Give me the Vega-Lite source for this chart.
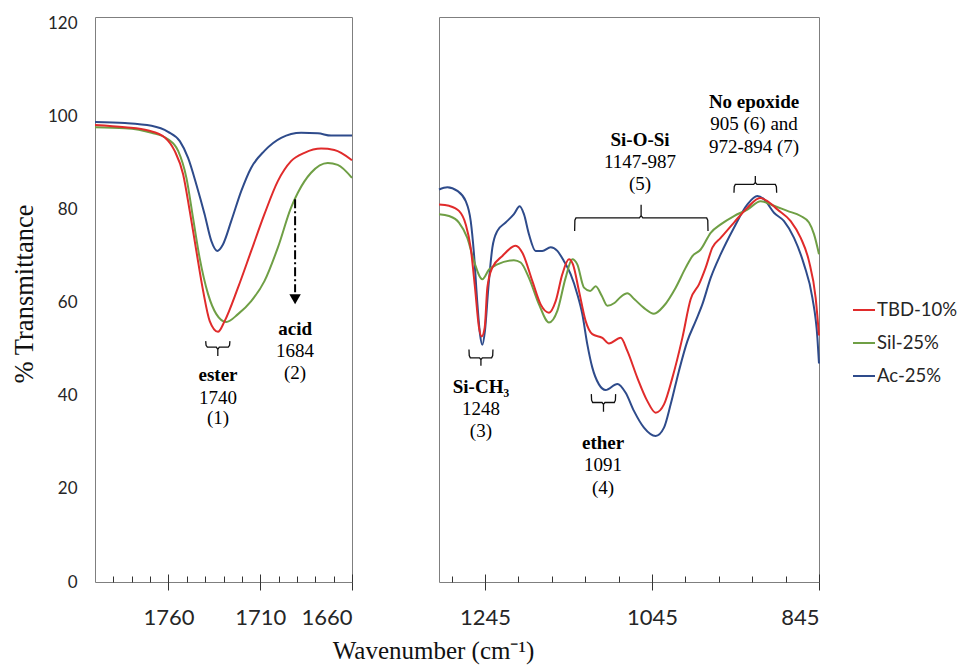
{
  "$schema": "https://vega.github.io/schema/vega-lite/v6.json",
  "padding": {"left": 11, "top": 14, "right": 5, "bottom": 5},
  "background": "white",
  "bounds": "flush",
  "spacing": 87,
  "datasets": {
    "L": [
      {"s": "Ac-25%", "x": 1800, "y": 98.9}, {"s": "Ac-25%", "x": 1783.7, "y": 98.7}, {"s": "Ac-25%", "x": 1769.2, "y": 98.1}, {"s": "Ac-25%", "x": 1760.2, "y": 96.8}, {"s": "Ac-25%", "x": 1753.8, "y": 94.8}, {"s": "Ac-25%", "x": 1749.3, "y": 91.2}, {"s": "Ac-25%", "x": 1744.8, "y": 85.5}, {"s": "Ac-25%", "x": 1740.3, "y": 79.1}, {"s": "Ac-25%", "x": 1736.6, "y": 73.3}, {"s": "Ac-25%", "x": 1733.4, "y": 71.2}, {"s": "Ac-25%", "x": 1730.3, "y": 72.6}, {"s": "Ac-25%", "x": 1725.8, "y": 77.6}, {"s": "Ac-25%", "x": 1720.3, "y": 84.1}, {"s": "Ac-25%", "x": 1714.9, "y": 89.1}, {"s": "Ac-25%", "x": 1707.7, "y": 92.7}, {"s": "Ac-25%", "x": 1698.6, "y": 95.5}, {"s": "Ac-25%", "x": 1687.7, "y": 96.6}, {"s": "Ac-25%", "x": 1678.6, "y": 96.5}, {"s": "Ac-25%", "x": 1671.4, "y": 96.0}, {"s": "Ac-25%", "x": 1660, "y": 96.0},
      {"s": "Sil-25%", "x": 1800, "y": 97.8}, {"s": "Sil-25%", "x": 1783.7, "y": 97.6}, {"s": "Sil-25%", "x": 1769.2, "y": 96.6}, {"s": "Sil-25%", "x": 1760.2, "y": 95.2}, {"s": "Sil-25%", "x": 1754.7, "y": 92.7}, {"s": "Sil-25%", "x": 1750.2, "y": 86.9}, {"s": "Sil-25%", "x": 1746.6, "y": 78.3}, {"s": "Sil-25%", "x": 1743, "y": 69.7}, {"s": "Sil-25%", "x": 1738.4, "y": 61.9}, {"s": "Sil-25%", "x": 1733.9, "y": 57.6}, {"s": "Sil-25%", "x": 1728.5, "y": 55.9}, {"s": "Sil-25%", "x": 1722.1, "y": 57.6}, {"s": "Sil-25%", "x": 1714.9, "y": 60.4}, {"s": "Sil-25%", "x": 1707.7, "y": 64.7}, {"s": "Sil-25%", "x": 1700.4, "y": 71.9}, {"s": "Sil-25%", "x": 1693.2, "y": 80.5}, {"s": "Sil-25%", "x": 1689.5, "y": 83.7}, {"s": "Sil-25%", "x": 1682.3, "y": 88.0}, {"s": "Sil-25%", "x": 1673.2, "y": 90.1}, {"s": "Sil-25%", "x": 1667.8, "y": 89.7}, {"s": "Sil-25%", "x": 1660, "y": 86.9},
      {"s": "TBD-10%", "x": 1800, "y": 98.3}, {"s": "TBD-10%", "x": 1783.7, "y": 97.8}, {"s": "TBD-10%", "x": 1771, "y": 97.1}, {"s": "TBD-10%", "x": 1762, "y": 95.6}, {"s": "TBD-10%", "x": 1756.6, "y": 92.7}, {"s": "TBD-10%", "x": 1752, "y": 87.7}, {"s": "TBD-10%", "x": 1748.4, "y": 79.8}, {"s": "TBD-10%", "x": 1744.8, "y": 71.2}, {"s": "TBD-10%", "x": 1741.1, "y": 62.6}, {"s": "TBD-10%", "x": 1737.5, "y": 56.1}, {"s": "TBD-10%", "x": 1733, "y": 53.8}, {"s": "TBD-10%", "x": 1729.4, "y": 56.1}, {"s": "TBD-10%", "x": 1722.1, "y": 63.3}, {"s": "TBD-10%", "x": 1714.9, "y": 71.2}, {"s": "TBD-10%", "x": 1707.7, "y": 79.1}, {"s": "TBD-10%", "x": 1700.4, "y": 86.2}, {"s": "TBD-10%", "x": 1693.2, "y": 90.5}, {"s": "TBD-10%", "x": 1685.9, "y": 92.3}, {"s": "TBD-10%", "x": 1676.8, "y": 93.2}, {"s": "TBD-10%", "x": 1669.6, "y": 92.9}, {"s": "TBD-10%", "x": 1660, "y": 90.7}
    ],
    "R": [
      {"s": "Ac-25%", "x": 1300, "y": 84.4}, {"s": "Ac-25%", "x": 1290, "y": 84.9}, {"s": "Ac-25%", "x": 1278, "y": 84.1}, {"s": "Ac-25%", "x": 1268, "y": 81.9}, {"s": "Ac-25%", "x": 1262, "y": 77.6}, {"s": "Ac-25%", "x": 1258.1, "y": 70.5}, {"s": "Ac-25%", "x": 1254, "y": 59.7}, {"s": "Ac-25%", "x": 1250.9, "y": 53.3}, {"s": "Ac-25%", "x": 1248.1, "y": 51.0}, {"s": "Ac-25%", "x": 1245, "y": 54.0}, {"s": "Ac-25%", "x": 1240.9, "y": 63.3}, {"s": "Ac-25%", "x": 1236.1, "y": 71.9}, {"s": "Ac-25%", "x": 1230.1, "y": 75.5}, {"s": "Ac-25%", "x": 1220.2, "y": 77.3}, {"s": "Ac-25%", "x": 1210.3, "y": 79.1}, {"s": "Ac-25%", "x": 1203.4, "y": 80.8}, {"s": "Ac-25%", "x": 1198.3, "y": 79.1}, {"s": "Ac-25%", "x": 1192.3, "y": 74.8}, {"s": "Ac-25%", "x": 1184.3, "y": 71.2}, {"s": "Ac-25%", "x": 1176.3, "y": 71.2}, {"s": "Ac-25%", "x": 1166.3, "y": 72.0}, {"s": "Ac-25%", "x": 1158.3, "y": 71.2}, {"s": "Ac-25%", "x": 1150.4, "y": 69.0}, {"s": "Ac-25%", "x": 1142.4, "y": 66.2}, {"s": "Ac-25%", "x": 1134.4, "y": 61.9}, {"s": "Ac-25%", "x": 1128.4, "y": 57.6}, {"s": "Ac-25%", "x": 1122.4, "y": 51.1}, {"s": "Ac-25%", "x": 1116.4, "y": 46.1}, {"s": "Ac-25%", "x": 1108.5, "y": 42.5}, {"s": "Ac-25%", "x": 1100.5, "y": 41.3}, {"s": "Ac-25%", "x": 1086.4, "y": 42.6}, {"s": "Ac-25%", "x": 1076.5, "y": 40.7}, {"s": "Ac-25%", "x": 1066.6, "y": 36.8}, {"s": "Ac-25%", "x": 1054.6, "y": 33.2}, {"s": "Ac-25%", "x": 1040.6, "y": 31.4}, {"s": "Ac-25%", "x": 1030.6, "y": 33.2}, {"s": "Ac-25%", "x": 1022.6, "y": 38.2}, {"s": "Ac-25%", "x": 1012.7, "y": 45.4}, {"s": "Ac-25%", "x": 1002.6, "y": 51.8}, {"s": "Ac-25%", "x": 992.7, "y": 56.1}, {"s": "Ac-25%", "x": 984.7, "y": 59.7}, {"s": "Ac-25%", "x": 974.7, "y": 65.4}, {"s": "Ac-25%", "x": 962.7, "y": 70.5}, {"s": "Ac-25%", "x": 946.8, "y": 76.2}, {"s": "Ac-25%", "x": 930.7, "y": 81.2}, {"s": "Ac-25%", "x": 918.8, "y": 83.0}, {"s": "Ac-25%", "x": 910.9, "y": 82.3}, {"s": "Ac-25%", "x": 898.9, "y": 79.4}, {"s": "Ac-25%", "x": 886.9, "y": 77.6}, {"s": "Ac-25%", "x": 874.9, "y": 74.0}, {"s": "Ac-25%", "x": 863, "y": 68.3}, {"s": "Ac-25%", "x": 852.9, "y": 61.1}, {"s": "Ac-25%", "x": 846.9, "y": 52.5}, {"s": "Ac-25%", "x": 845, "y": 47.0},
      {"s": "Sil-25%", "x": 1300, "y": 79.1}, {"s": "Sil-25%", "x": 1288, "y": 78.7}, {"s": "Sil-25%", "x": 1276.1, "y": 77.3}, {"s": "Sil-25%", "x": 1266.1, "y": 74.0}, {"s": "Sil-25%", "x": 1258.1, "y": 69.0}, {"s": "Sil-25%", "x": 1248.1, "y": 65.1}, {"s": "Sil-25%", "x": 1240.1, "y": 67.2}, {"s": "Sil-25%", "x": 1230.1, "y": 68.3}, {"s": "Sil-25%", "x": 1210.3, "y": 69.2}, {"s": "Sil-25%", "x": 1202.2, "y": 68.7}, {"s": "Sil-25%", "x": 1192.3, "y": 65.4}, {"s": "Sil-25%", "x": 1180.3, "y": 59.7}, {"s": "Sil-25%", "x": 1168.3, "y": 55.8}, {"s": "Sil-25%", "x": 1158.3, "y": 58.3}, {"s": "Sil-25%", "x": 1148.4, "y": 65.4}, {"s": "Sil-25%", "x": 1140.4, "y": 69.4}, {"s": "Sil-25%", "x": 1134.4, "y": 68.3}, {"s": "Sil-25%", "x": 1126.4, "y": 63.3}, {"s": "Sil-25%", "x": 1119, "y": 62.6}, {"s": "Sil-25%", "x": 1112.4, "y": 63.6}, {"s": "Sil-25%", "x": 1105, "y": 61.5}, {"s": "Sil-25%", "x": 1098.4, "y": 59.4}, {"s": "Sil-25%", "x": 1090, "y": 60.0}, {"s": "Sil-25%", "x": 1082.5, "y": 61.3}, {"s": "Sil-25%", "x": 1074.5, "y": 62.1}, {"s": "Sil-25%", "x": 1066, "y": 60.8}, {"s": "Sil-25%", "x": 1055, "y": 59.0}, {"s": "Sil-25%", "x": 1042.6, "y": 57.7}, {"s": "Sil-25%", "x": 1030.6, "y": 59.4}, {"s": "Sil-25%", "x": 1016.6, "y": 63.3}, {"s": "Sil-25%", "x": 1004.6, "y": 67.6}, {"s": "Sil-25%", "x": 996.6, "y": 70.1}, {"s": "Sil-25%", "x": 986.7, "y": 71.5}, {"s": "Sil-25%", "x": 974.7, "y": 75.1}, {"s": "Sil-25%", "x": 962.7, "y": 76.9}, {"s": "Sil-25%", "x": 946.8, "y": 78.7}, {"s": "Sil-25%", "x": 930.7, "y": 80.1}, {"s": "Sil-25%", "x": 914.8, "y": 81.9}, {"s": "Sil-25%", "x": 898.9, "y": 80.9}, {"s": "Sil-25%", "x": 882.9, "y": 79.8}, {"s": "Sil-25%", "x": 866.9, "y": 78.7}, {"s": "Sil-25%", "x": 857, "y": 77.3}, {"s": "Sil-25%", "x": 851, "y": 74.8}, {"s": "Sil-25%", "x": 845, "y": 70.5},
      {"s": "TBD-10%", "x": 1300, "y": 81.2}, {"s": "TBD-10%", "x": 1288, "y": 80.9}, {"s": "TBD-10%", "x": 1276.1, "y": 79.8}, {"s": "TBD-10%", "x": 1268, "y": 76.9}, {"s": "TBD-10%", "x": 1262.1, "y": 71.9}, {"s": "TBD-10%", "x": 1256.9, "y": 63.3}, {"s": "TBD-10%", "x": 1252.1, "y": 54.7}, {"s": "TBD-10%", "x": 1248.9, "y": 52.8}, {"s": "TBD-10%", "x": 1245.3, "y": 54.7}, {"s": "TBD-10%", "x": 1242.1, "y": 63.3}, {"s": "TBD-10%", "x": 1236.1, "y": 67.6}, {"s": "TBD-10%", "x": 1224.1, "y": 70.1}, {"s": "TBD-10%", "x": 1208.2, "y": 72.3}, {"s": "TBD-10%", "x": 1200.2, "y": 70.8}, {"s": "TBD-10%", "x": 1188.2, "y": 64.7}, {"s": "TBD-10%", "x": 1178.3, "y": 59.7}, {"s": "TBD-10%", "x": 1168.3, "y": 57.9}, {"s": "TBD-10%", "x": 1160.3, "y": 60.4}, {"s": "TBD-10%", "x": 1152.3, "y": 66.2}, {"s": "TBD-10%", "x": 1144.4, "y": 69.4}, {"s": "TBD-10%", "x": 1139.6, "y": 68.3}, {"s": "TBD-10%", "x": 1132.4, "y": 62.6}, {"s": "TBD-10%", "x": 1124.4, "y": 56.1}, {"s": "TBD-10%", "x": 1116.4, "y": 53.3}, {"s": "TBD-10%", "x": 1104.4, "y": 52.5}, {"s": "TBD-10%", "x": 1096.5, "y": 51.3}, {"s": "TBD-10%", "x": 1082.5, "y": 52.5}, {"s": "TBD-10%", "x": 1074.5, "y": 49.7}, {"s": "TBD-10%", "x": 1062.5, "y": 43.9}, {"s": "TBD-10%", "x": 1050.5, "y": 38.9}, {"s": "TBD-10%", "x": 1040.6, "y": 36.4}, {"s": "TBD-10%", "x": 1030.6, "y": 38.2}, {"s": "TBD-10%", "x": 1020.6, "y": 43.9}, {"s": "TBD-10%", "x": 1008.6, "y": 52.5}, {"s": "TBD-10%", "x": 998.7, "y": 60.8}, {"s": "TBD-10%", "x": 988.7, "y": 64.0}, {"s": "TBD-10%", "x": 980.7, "y": 67.6}, {"s": "TBD-10%", "x": 972.7, "y": 71.9}, {"s": "TBD-10%", "x": 962.7, "y": 74.0}, {"s": "TBD-10%", "x": 946.8, "y": 77.3}, {"s": "TBD-10%", "x": 930.7, "y": 80.5}, {"s": "TBD-10%", "x": 915.7, "y": 82.6}, {"s": "TBD-10%", "x": 906.8, "y": 81.9}, {"s": "TBD-10%", "x": 894.8, "y": 80.1}, {"s": "TBD-10%", "x": 878.9, "y": 77.6}, {"s": "TBD-10%", "x": 866.9, "y": 74.0}, {"s": "TBD-10%", "x": 857, "y": 69.0}, {"s": "TBD-10%", "x": 849, "y": 61.1}, {"s": "TBD-10%", "x": 845, "y": 53.0}
    ],
    "BL": [
      {"id": "ester", "o": 1, "x": 1739.7, "y": 51.8}, {"id": "ester", "o": 2, "x": 1739.5, "y": 50.9}, {"id": "ester", "o": 3, "x": 1738.8, "y": 50.5}, {"id": "ester", "o": 4, "x": 1733.9, "y": 50.5}, {"id": "ester", "o": 5, "x": 1733.1, "y": 50.0}, {"id": "ester", "o": 6, "x": 1733.1, "y": 48.6}, {"id": "ester", "o": 7, "x": 1733.1, "y": 50.0}, {"id": "ester", "o": 8, "x": 1732.3, "y": 50.5}, {"id": "ester", "o": 9, "x": 1727.4, "y": 50.5}, {"id": "ester", "o": 10, "x": 1726.7, "y": 50.9}, {"id": "ester", "o": 11, "x": 1726.5, "y": 51.8}
    ],
    "BR": [
      {"id": "sich", "o": 1, "x": 1264.1, "y": 50.0}, {"id": "sich", "o": 2, "x": 1263.8, "y": 48.7}, {"id": "sich", "o": 3, "x": 1262.5, "y": 48.2}, {"id": "sich", "o": 4, "x": 1251.5, "y": 48.2}, {"id": "sich", "o": 5, "x": 1249.8, "y": 47.8}, {"id": "sich", "o": 6, "x": 1249.8, "y": 46.5}, {"id": "sich", "o": 7, "x": 1249.8, "y": 47.8}, {"id": "sich", "o": 8, "x": 1248.1, "y": 48.2}, {"id": "sich", "o": 9, "x": 1237.0, "y": 48.2}, {"id": "sich", "o": 10, "x": 1235.7, "y": 48.7}, {"id": "sich", "o": 11, "x": 1235.4, "y": 50.0},
      {"id": "ether", "o": 1, "x": 1117.6, "y": 40.4}, {"id": "ether", "o": 2, "x": 1117.3, "y": 39.1}, {"id": "ether", "o": 3, "x": 1116.0, "y": 38.6}, {"id": "ether", "o": 4, "x": 1104.8, "y": 38.6}, {"id": "ether", "o": 5, "x": 1103.05, "y": 38.2}, {"id": "ether", "o": 6, "x": 1103.05, "y": 36.6}, {"id": "ether", "o": 7, "x": 1103.05, "y": 38.2}, {"id": "ether", "o": 8, "x": 1101.3, "y": 38.6}, {"id": "ether", "o": 9, "x": 1090.1, "y": 38.6}, {"id": "ether", "o": 10, "x": 1088.8, "y": 39.1}, {"id": "ether", "o": 11, "x": 1088.5, "y": 40.4},
      {"id": "siosi", "o": 1, "x": 1137.6, "y": 75.5}, {"id": "siosi", "o": 2, "x": 1137.3, "y": 77.8}, {"id": "siosi", "o": 3, "x": 1136.0, "y": 78.3}, {"id": "siosi", "o": 4, "x": 1060, "y": 78.3}, {"id": "siosi", "o": 5, "x": 1058, "y": 78.8}, {"id": "siosi", "o": 6, "x": 1058, "y": 81.1}, {"id": "siosi", "o": 7, "x": 1058, "y": 78.8}, {"id": "siosi", "o": 8, "x": 1056, "y": 78.3}, {"id": "siosi", "o": 9, "x": 979.5, "y": 78.3}, {"id": "siosi", "o": 10, "x": 978.2, "y": 77.8}, {"id": "siosi", "o": 11, "x": 977.9, "y": 75.5},
      {"id": "noep", "o": 1, "x": 946.8, "y": 83.7}, {"id": "noep", "o": 2, "x": 946.5, "y": 85.0}, {"id": "noep", "o": 3, "x": 945.2, "y": 85.5}, {"id": "noep", "o": 4, "x": 923.2, "y": 85.5}, {"id": "noep", "o": 5, "x": 921.25, "y": 85.9}, {"id": "noep", "o": 6, "x": 921.25, "y": 87.3}, {"id": "noep", "o": 7, "x": 921.25, "y": 85.9}, {"id": "noep", "o": 8, "x": 919.3, "y": 85.5}, {"id": "noep", "o": 9, "x": 897.3, "y": 85.5}, {"id": "noep", "o": 10, "x": 896.0, "y": 85.0}, {"id": "noep", "o": 11, "x": 895.7, "y": 83.7}
    ],
    "A": [{"o": 1, "x": 1691, "y": 82.3}, {"o": 2, "x": 1691, "y": 62.3}],
    "H": [{"x": 1691, "y": 60.8}],
    "TL": [
      {"t": "ester", "b": 1, "x": 1733.0, "y": 43.2},
      {"t": "1740", "b": 0, "x": 1733.0, "y": 38.3},
      {"t": "(1)", "b": 0, "x": 1733.0, "y": 34.0},
      {"t": "acid", "b": 1, "x": 1691, "y": 53.1},
      {"t": "1684", "b": 0, "x": 1691, "y": 48.4},
      {"t": "(2)", "b": 0, "x": 1691, "y": 43.7}
    ],
    "TR": [
      {"t": "Si-CH₃", "b": 1, "x": 1249.8, "y": 40.7},
      {"t": "1248", "b": 0, "x": 1249.8, "y": 35.9},
      {"t": "(3)", "b": 0, "x": 1249.8, "y": 31.2},
      {"t": "ether", "b": 1, "x": 1103.5, "y": 28.7},
      {"t": "1091", "b": 0, "x": 1103.5, "y": 23.9},
      {"t": "(4)", "b": 0, "x": 1103.5, "y": 19.0},
      {"t": "Si-O-Si", "b": 1, "x": 1059.3, "y": 93.8},
      {"t": "1147-987", "b": 0, "x": 1059.3, "y": 89.1},
      {"t": "(5)", "b": 0, "x": 1059.3, "y": 84.4},
      {"t": "No epoxide", "b": 1, "x": 922.8, "y": 102.0},
      {"t": "905 (6) and", "b": 0, "x": 922.8, "y": 97.1},
      {"t": "972-894 (7)", "b": 0, "x": 922.8, "y": 92.3}
    ]
  },
  "resolve": {
    "scale": {"x": "independent", "y": "independent", "color": "shared"},
    "axis": {"x": "independent", "y": "independent"},
    "legend": {"color": "shared"}
  },
  "hconcat": [
    {
      "width": 257,
      "height": 565,
      "encoding": {
        "y": {
          "field": "y", "type": "quantitative",
          "scale": {"domain": [0, 121.5], "nice": false, "zero": false},
          "axis": {
            "values": [0, 20, 40, 60, 80, 100, 120],
            "ticks": false, "tickSize": 0, "labelPadding": 18,
            "labelFont": "Lato", "labelFontSize": 17, "labelColor": "#262626",
            "domain": false, "grid": false,
            "title": "% Transmittance",
            "titleFont": "Liberation Serif", "titleFontSize": 26.5, "titleFontWeight": "normal", "titleColor": "#111111",
            "titleAngle": -90, "titleAlign": "center", "titleBaseline": "alphabetic",
            "titleX": -62.5, "titleY": 276.5
          }
        }
      },
      "resolve": {"scale": {"x": "independent"}, "axis": {"x": "independent"}},
      "layer": [
        {
          "data": {"name": "L"},
          "mark": {"type": "line", "interpolate": "monotone", "strokeWidth": 2},
          "encoding": {
            "x": {
              "field": "x", "type": "quantitative",
              "scale": {"domain": [1660, 1800], "reverse": true, "nice": false, "zero": false},
              "axis": {
                "orient": "bottom",
                "values": [1760, 1710, 1660], "format": "d", "tickSize": 8, "tickColor": "#333333", "tickWidth": 1,
                "labelPadding": 17, "labelFont": "Lato", "labelFontSize": 22, "labelColor": "#262626",
                "domain": false, "grid": false,
                "title": "Wavenumber (cm⁻¹)",
                "titleFont": "Liberation Serif", "titleFontSize": 25, "titleFontWeight": "normal", "titleColor": "#111111",
                "titleAlign": "center", "titleBaseline": "alphabetic", "titleX": 338, "titleY": 76
              }
            },
            "color": {
              "field": "s", "type": "nominal",
              "scale": {"domain": ["TBD-10%", "Sil-25%", "Ac-25%"], "range": ["#E02B2B", "#6F9F45", "#2E4B8B"]},
              "legend": {
                "orient": "none", "legendX": 757, "legendY": 281, "title": null,
                "symbolType": "stroke", "symbolSize": 484, "symbolStrokeWidth": 2,
                "labelFont": "Lato", "labelFontSize": 18.5, "labelColor": "#262626",
                "labelOffset": 1, "rowPadding": 11, "padding": 0
              }
            }
          }
        },
        {
          "data": {"name": "L"},
          "mark": {"type": "point", "opacity": 0},
          "encoding": {
            "x": {
              "field": "x", "type": "quantitative",
              "scale": {"domain": [1660, 1800], "reverse": true, "nice": false, "zero": false},
              "axis": {"orient": "bottom", "values": [1760, 1710, 1660], "tickSize": -8, "tickColor": "#333333", "labels": false, "domain": false, "grid": false, "title": null}
            }
          }
        },
        {
          "data": {"name": "L"},
          "mark": {"type": "point", "opacity": 0},
          "encoding": {
            "x": {
              "field": "x", "type": "quantitative",
              "scale": {"domain": [1660, 1800], "reverse": true, "nice": false, "zero": false},
              "axis": {"orient": "bottom", "values": [1790, 1780, 1770, 1760, 1750, 1740, 1730, 1720, 1710, 1700, 1690, 1680, 1670], "tickSize": -6, "tickColor": "#333333", "labels": false, "domain": false, "grid": false, "title": null}
            }
          }
        },
        {
          "data": {"name": "BL"},
          "mark": {"type": "line", "interpolate": "linear", "strokeWidth": 1.3, "color": "#111111"},
          "encoding": {
            "x": {"field": "x", "type": "quantitative", "scale": {"domain": [1660, 1800], "reverse": true, "nice": false, "zero": false}, "axis": null},
            "detail": {"field": "id"},
            "order": {"field": "o", "type": "quantitative"}
          }
        },
        {
          "data": {"name": "A"},
          "mark": {"type": "line", "strokeWidth": 2, "color": "#000000", "strokeDash": [9, 3, 2, 3]},
          "encoding": {
            "x": {"field": "x", "type": "quantitative", "scale": {"domain": [1660, 1800], "reverse": true, "nice": false, "zero": false}, "axis": null},
            "order": {"field": "o", "type": "quantitative"}
          }
        },
        {
          "data": {"name": "H"},
          "mark": {"type": "point", "shape": "triangle-down", "filled": true, "size": 130, "color": "#000000", "opacity": 1},
          "encoding": {
            "x": {"field": "x", "type": "quantitative", "scale": {"domain": [1660, 1800], "reverse": true, "nice": false, "zero": false}, "axis": null}
          }
        },
        {
          "data": {"name": "TL"},
          "transform": [{"filter": "datum.b == 1"}],
          "mark": {"type": "text", "font": "Liberation Serif", "fontSize": 19, "fontWeight": "bold", "align": "center", "baseline": "alphabetic", "color": "#000000"},
          "encoding": {
            "x": {"field": "x", "type": "quantitative", "scale": {"domain": [1660, 1800], "reverse": true, "nice": false, "zero": false}, "axis": null},
            "text": {"field": "t"}
          }
        },
        {
          "data": {"name": "TL"},
          "transform": [{"filter": "datum.b == 0"}],
          "mark": {"type": "text", "font": "Liberation Serif", "fontSize": 19, "align": "center", "baseline": "alphabetic", "color": "#000000"},
          "encoding": {
            "x": {"field": "x", "type": "quantitative", "scale": {"domain": [1660, 1800], "reverse": true, "nice": false, "zero": false}, "axis": null},
            "text": {"field": "t"}
          }
        }
      ]
    },
    {
      "width": 380,
      "height": 565,
      "encoding": {
        "y": {
          "field": "y", "type": "quantitative",
          "scale": {"domain": [0, 121.5], "nice": false, "zero": false},
          "axis": null
        }
      },
      "resolve": {"scale": {"x": "independent"}, "axis": {"x": "independent"}},
      "layer": [
        {
          "data": {"name": "R"},
          "mark": {"type": "line", "interpolate": "monotone", "strokeWidth": 2},
          "encoding": {
            "x": {
              "field": "x", "type": "quantitative",
              "scale": {"domain": [845, 1300], "reverse": true, "nice": false, "zero": false},
              "axis": {
                "orient": "bottom",
                "values": [1245, 1045, 845], "format": "d", "tickSize": 8, "tickColor": "#333333", "tickWidth": 1,
                "labelPadding": 17, "labelFont": "Lato", "labelFontSize": 22, "labelColor": "#262626",
                "domain": false, "grid": false, "title": null
              }
            },
            "color": {
              "field": "s", "type": "nominal",
              "scale": {"domain": ["TBD-10%", "Sil-25%", "Ac-25%"], "range": ["#E02B2B", "#6F9F45", "#2E4B8B"]},
              "legend": {
                "orient": "none", "legendX": 757, "legendY": 281, "title": null,
                "symbolType": "stroke", "symbolSize": 484, "symbolStrokeWidth": 2,
                "labelFont": "Lato", "labelFontSize": 18.5, "labelColor": "#262626",
                "labelOffset": 1, "rowPadding": 11, "padding": 0
              }
            }
          }
        },
        {
          "data": {"name": "R"},
          "mark": {"type": "point", "opacity": 0},
          "encoding": {
            "x": {
              "field": "x", "type": "quantitative",
              "scale": {"domain": [845, 1300], "reverse": true, "nice": false, "zero": false},
              "axis": {"orient": "bottom", "values": [1245, 1045, 845], "tickSize": -8, "tickColor": "#333333", "labels": false, "domain": false, "grid": false, "title": null}
            }
          }
        },
        {
          "data": {"name": "R"},
          "mark": {"type": "point", "opacity": 0},
          "encoding": {
            "x": {
              "field": "x", "type": "quantitative",
              "scale": {"domain": [845, 1300], "reverse": true, "nice": false, "zero": false},
              "axis": {"orient": "bottom", "values": [1285, 1245, 1205, 1165, 1125, 1085, 1045, 1005, 965, 925, 885], "tickSize": -6, "tickColor": "#333333", "labels": false, "domain": false, "grid": false, "title": null}
            }
          }
        },
        {
          "data": {"name": "BR"},
          "mark": {"type": "line", "interpolate": "linear", "strokeWidth": 1.3, "color": "#111111"},
          "encoding": {
            "x": {"field": "x", "type": "quantitative", "scale": {"domain": [845, 1300], "reverse": true, "nice": false, "zero": false}, "axis": null},
            "detail": {"field": "id"},
            "order": {"field": "o", "type": "quantitative"}
          }
        },
        {
          "data": {"name": "TR"},
          "transform": [{"filter": "datum.b == 1"}],
          "mark": {"type": "text", "font": "Liberation Serif", "fontSize": 19, "fontWeight": "bold", "align": "center", "baseline": "alphabetic", "color": "#000000"},
          "encoding": {
            "x": {"field": "x", "type": "quantitative", "scale": {"domain": [845, 1300], "reverse": true, "nice": false, "zero": false}, "axis": null},
            "text": {"field": "t"}
          }
        },
        {
          "data": {"name": "TR"},
          "transform": [{"filter": "datum.b == 0"}],
          "mark": {"type": "text", "font": "Liberation Serif", "fontSize": 19, "align": "center", "baseline": "alphabetic", "color": "#000000"},
          "encoding": {
            "x": {"field": "x", "type": "quantitative", "scale": {"domain": [845, 1300], "reverse": true, "nice": false, "zero": false}, "axis": null},
            "text": {"field": "t"}
          }
        }
      ]
    }
  ],
  "config": {
    "view": {"stroke": "#7f7f7f", "strokeWidth": 1},
    "axis": {"grid": false}
  }
}
